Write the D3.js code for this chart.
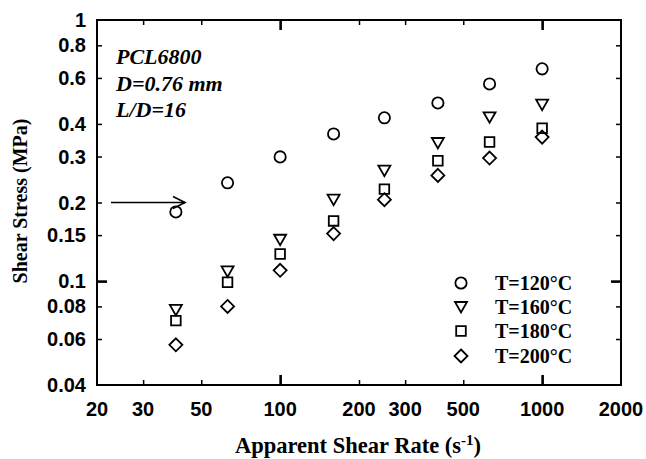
<!DOCTYPE html>
<html>
<head>
<meta charset="utf-8">
<script src="https://cdn.jsdelivr.net/npm/d3@7"></script>
<style>
  html, body { margin: 0; padding: 0; background: #fff; }
  svg { display: block; }
</style>
</head>
<body>
<svg id="chart" width="646" height="459"></svg>
<script>
// Apparent shear rate (1/s) for each measurement
const shearRate = [40, 63, 100, 160, 250, 400, 630, 1000];

// Shear stress (MPa) at each temperature
const stress120 = [0.184, 0.238, 0.299, 0.366, 0.422, 0.481, 0.569, 0.650];
const stress160 = [0.0776, 0.109, 0.144, 0.205, 0.265, 0.338, 0.424, 0.474];
const stress180 = [0.0706, 0.099, 0.127, 0.170, 0.225, 0.289, 0.341, 0.385];
const stress200 = [0.057, 0.080, 0.110, 0.152, 0.205, 0.254, 0.296, 0.356];

const seriesNames = ["T=120°C", "T=160°C", "T=180°C", "T=200°C"];
const seriesSymbols = ["circle", "triangleDown", "square", "diamond"];

// Tick values and labels
const xTicks = [20, 30, 50, 100, 200, 300, 500, 1000, 2000];
const xMajor = [100, 1000];
const yTicks = [0.04, 0.06, 0.08, 0.1, 0.15, 0.2, 0.3, 0.4, 0.6, 0.8, 1];
const yMajor = [0.1, 1];

const annotation = ["PCL6800", "D=0.76 mm", "L/D=16"];
const arrowStress = 0.2;

const svg = d3.select("#chart");
const L = 97, R = 621, T = 20, B = 385;

const x = d3.scaleLog().domain([20, 2000]).range([L, R]);
const y = d3.scaleLog().domain([0.04, 1]).range([B, T]);

const sans = "'Liberation Sans', Arial, sans-serif";
const serif = "'Liberation Serif', 'Times New Roman', serif";

// Tick marks (all pointing inward) drawn via d3 axes
function tickLen(v, majors) { return majors.includes(v) ? 10 : 5; }

const inner = (v, arr) => !(v === arr[0] || v === arr[arr.length - 1]);

const xInner = xTicks.filter(v => inner(v, xTicks));
const yInner = yTicks.filter(v => inner(v, yTicks));

function drawTicks(axisFn, scale, vals, majors, transform) {
  vals.forEach(v => {
    const g = svg.append("g").attr("transform", transform)
      .call(axisFn(scale).tickValues([v]).tickSize(tickLen(v, majors)).tickFormat(""));
    g.select(".domain").remove();
    g.selectAll("line").attr("stroke", "#000")
      .attr("stroke-width", majors.includes(v) ? 2.6 : 1.5);
  });
}
drawTicks(d3.axisTop, x, xInner, xMajor, `translate(0,${B})`);
drawTicks(d3.axisBottom, x, xInner, xMajor, `translate(0,${T})`);
drawTicks(d3.axisRight, y, yInner, yMajor, `translate(${L},0)`);
drawTicks(d3.axisLeft, y, yInner, yMajor, `translate(${R},0)`);

// Frame
svg.append("rect")
  .attr("x", L).attr("y", T).attr("width", R - L).attr("height", B - T)
  .attr("fill", "none").attr("stroke", "#000").attr("stroke-width", 2);

// Tick labels
svg.append("g").selectAll("text").data(xTicks).join("text")
  .attr("x", d => x(d)).attr("y", 416)
  .attr("text-anchor", "middle")
  .attr("font-family", sans).attr("font-weight", "bold").attr("font-size", 20)
  .text(d => d);

svg.append("g").selectAll("text").data(yTicks).join("text")
  .attr("x", 86).attr("y", d => y(d) + 7)
  .attr("text-anchor", "end")
  .attr("font-family", sans).attr("font-weight", "bold").attr("font-size", 20)
  .text(d => d);

// Axis titles
svg.append("text")
  .attr("transform", `translate(27,201) rotate(-90)`)
  .attr("text-anchor", "middle")
  .attr("font-family", serif).attr("font-weight", "bold").attr("font-size", 20)
  .text("Shear Stress (MPa)");

const xt = svg.append("text")
  .attr("x", 358).attr("y", 453)
  .attr("text-anchor", "middle")
  .attr("font-family", serif).attr("font-weight", "bold").attr("font-size", 22.5);
xt.append("tspan").text("Apparent Shear Rate (s");
xt.append("tspan").attr("dy", -8).attr("font-size", 15).text("-1");
xt.append("tspan").attr("dy", 8).text(")");

// Marker shapes
function markerPath(kind) {
  switch (kind) {
    case "circle": return d3.symbol(d3.symbolCircle, 100)();
    case "square": return "M-4.8,-4.8H4.8V4.8H-4.8Z";
    case "diamond": return "M0,-6.5L6.5,0L0,6.5L-6.5,0Z";
    case "triangleDown": return "M-6,-5H6L0,5.5Z";
  }
}

const allSeries = [stress120, stress160, stress180, stress200];
allSeries.forEach((vals, i) => {
  svg.append("g").selectAll("path").data(vals).join("path")
    .attr("transform", (d, j) => `translate(${x(shearRate[j])},${y(d)})`)
    .attr("d", markerPath(seriesSymbols[i]))
    .attr("fill", "none").attr("stroke", "#000").attr("stroke-width", 1.8);
});

// Legend
const legY = [283, 307, 331, 356];
seriesNames.forEach((name, i) => {
  svg.append("path")
    .attr("transform", `translate(461,${legY[i]})`)
    .attr("d", markerPath(seriesSymbols[i]))
    .attr("fill", "none").attr("stroke", "#000").attr("stroke-width", 1.8);
  svg.append("text")
    .attr("x", 495).attr("y", legY[i] + 7)
    .attr("font-family", serif).attr("font-weight", "bold").attr("font-size", 20)
    .text(name);
});

// Sample description
svg.append("g").selectAll("text").data(annotation).join("text")
  .attr("x", 116).attr("y", (d, i) => 64 + i * 26.5)
  .attr("font-family", serif).attr("font-weight", "bold").attr("font-style", "italic")
  .attr("font-size", 22)
  .text(d => d);

// Arrow pointing to the lowest-rate 120°C point
const arrowY = y(arrowStress);
svg.append("line")
  .attr("x1", 111).attr("x2", 185).attr("y1", arrowY).attr("y2", arrowY)
  .attr("stroke", "#000").attr("stroke-width", 1.6);
svg.append("path")
  .attr("d", `M173,${arrowY - 6}L185,${arrowY}L173,${arrowY + 6}`)
  .attr("fill", "none").attr("stroke", "#000").attr("stroke-width", 1.6);
</script>
</body>
</html>
